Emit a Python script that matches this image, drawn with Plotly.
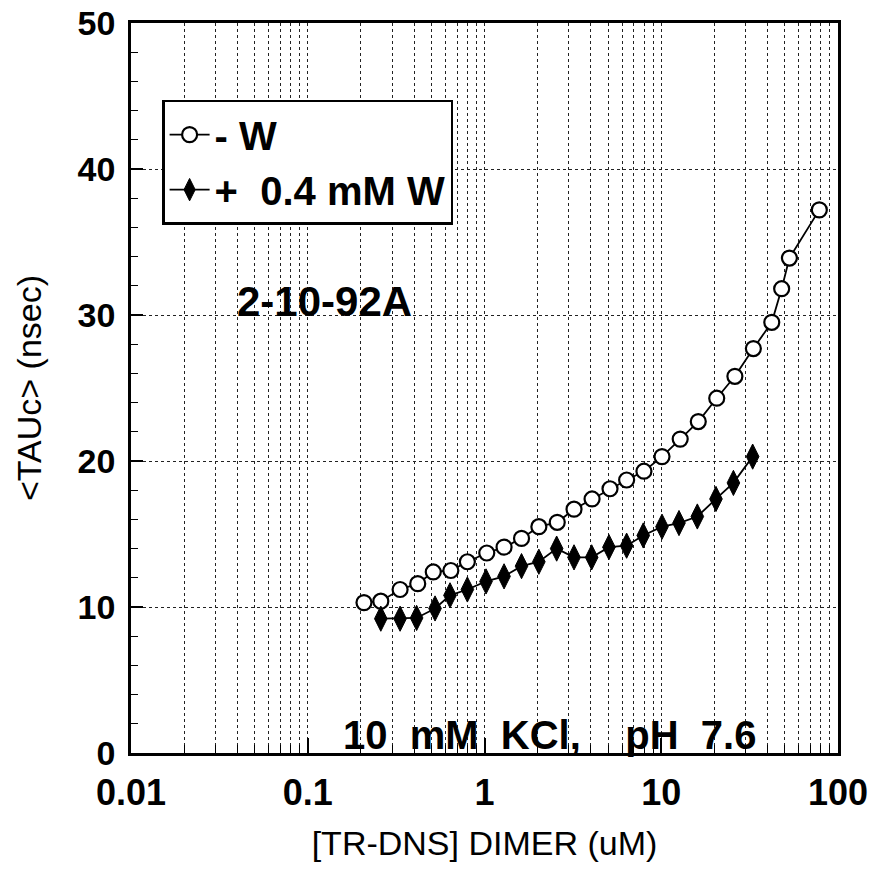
import plotly.graph_objects as go

# ---- data ----
conc_no_w = [0.208, 0.259, 0.333, 0.419, 0.513, 0.645, 0.80, 1.03, 1.29, 1.62,
             2.03, 2.58, 3.21, 4.06, 5.13, 6.37, 7.98, 10.1, 12.8, 16.2,
             20.6, 26.1, 33.2, 42.2, 48.0, 53.1, 78.4]
tau_no_w = [10.3, 10.4, 11.2, 11.6, 12.4, 12.5, 13.1, 13.7, 14.1, 14.7,
            15.5, 15.8, 16.7, 17.4, 18.1, 18.7, 19.3, 20.3, 21.5, 22.7,
            24.3, 25.8, 27.7, 29.5, 31.8, 33.9, 37.2]

conc_w = [0.259, 0.333, 0.413, 0.525, 0.638, 0.80, 1.02, 1.29, 1.62, 2.03,
          2.56, 3.21, 4.04, 5.06, 6.37, 7.91, 10.1, 12.6, 16.0, 20.4,
          25.6, 32.9]
tau_w = [9.2, 9.2, 9.25, 9.9, 10.8, 11.2, 11.75, 12.1, 12.8, 13.1,
         14.0, 13.4, 13.4, 14.1, 14.2, 14.9, 15.5, 15.75, 16.2, 17.4,
         18.5, 20.3]

name_no_w = "- W"
name_w = "+  0.4 mM W"

x_tick_vals = [0.01, 0.1, 1, 10, 100]
x_tick_text = ["0.01", "0.1", "1", "10", "100"]
x_minor_vals = [m * 10.0 ** e for e in range(-2, 2) for m in range(2, 10)]
y_tick_vals = [0, 10, 20, 30, 40, 50]

x_title = "[TR-DNS] DIMER (uM)"
y_title = "&lt;TAUc&gt; (nsec)"
run_label = "2-10-92A"
cond_label = "10  mM  KCl,    pH  7.6"

FONT = "Liberation Sans, Arial, Helvetica, sans-serif"
NARROW = "Liberation Sans Narrow, Arial Narrow, Liberation Sans, Arial, sans-serif"

fig = go.Figure()
fig.add_trace(go.Scatter(
    x=conc_no_w, y=tau_no_w, name=name_no_w, mode="lines+markers",
    line=dict(color="black", width=1.8),
    marker=dict(symbol="circle", size=15, color="white",
                line=dict(color="black", width=2.2)),
    legendgroup="a",
))
fig.add_trace(go.Scatter(
    x=conc_w, y=tau_w, name=name_w, mode="lines+markers",
    line=dict(color="black", width=1.8),
    marker=dict(symbol="diamond-tall", size=18, color="black",
                line=dict(color="black", width=1)),
    legendgroup="b",
))

grid_col = "#222222"
fig.update_xaxes(
    type="log", range=[-2, 2], automargin=False,
    tickmode="array", tickvals=x_tick_vals, ticktext=x_tick_text,
    ticks="inside", ticklen=15, tickwidth=1.5, tickcolor="black",
    showgrid=True, gridcolor=grid_col, gridwidth=1, griddash="dot",
    minor=dict(tickmode="array", tickvals=x_minor_vals, ticks="inside",
               ticklen=8, tickwidth=1.2, tickcolor="black",
               showgrid=True, gridcolor=grid_col, gridwidth=1, griddash="dot"),
    showline=True, linecolor="black", linewidth=2.5, mirror=True,
    tickfont=dict(family=NARROW, size=36, color="black", weight="bold"),
    ticklabelstandoff=6,
    title=dict(text=x_title, font=dict(family=FONT, size=34, color="black"),
               standoff=20),
    zeroline=False,
)
fig.update_yaxes(
    range=[0, 50], automargin=False,
    tickmode="array", tickvals=y_tick_vals,
    ticks="inside", ticklen=12, tickwidth=1.5, tickcolor="black",
    showgrid=True, gridcolor=grid_col, gridwidth=1, griddash="dot",
    minor=dict(dtick=2, ticks="inside", ticklen=7, tickwidth=1.2,
               tickcolor="black", showgrid=False),
    showline=True, linecolor="black", linewidth=2.5, mirror=True,
    tickfont=dict(family=NARROW, size=34, color="black", weight="bold"),
    ticklabelstandoff=6,
    title=dict(text=y_title, font=dict(family=FONT, size=34, color="black"),
               standoff=26),
    zeroline=False,
)

fig.add_annotation(text=run_label, x=0.273, y=0.618, xref="paper", yref="paper",
                   showarrow=False, xanchor="center", yanchor="middle",
                   font=dict(family=FONT, size=42, color="black", weight="bold"))
fig.add_annotation(text=cond_label, x=0.592, y=0.024, xref="paper", yref="paper",
                   showarrow=False, xanchor="center", yanchor="middle",
                   font=dict(family=FONT, size=40, color="black", weight="bold"))

fig.update_layout(
    width=871, height=875,
    margin=dict(l=131, r=33, t=23, b=122),
    paper_bgcolor="white", plot_bgcolor="white",
    showlegend=True,
    legend=dict(
        x=0.044, y=0.895, xanchor="left", yanchor="top",
        bgcolor="white", bordercolor="black", borderwidth=2.5,
        font=dict(family=FONT, size=40, color="black", weight="bold"),
        traceorder="grouped", tracegroupgap=0,
        itemwidth=40,
    ),
)

fig.write_html("out.html")
